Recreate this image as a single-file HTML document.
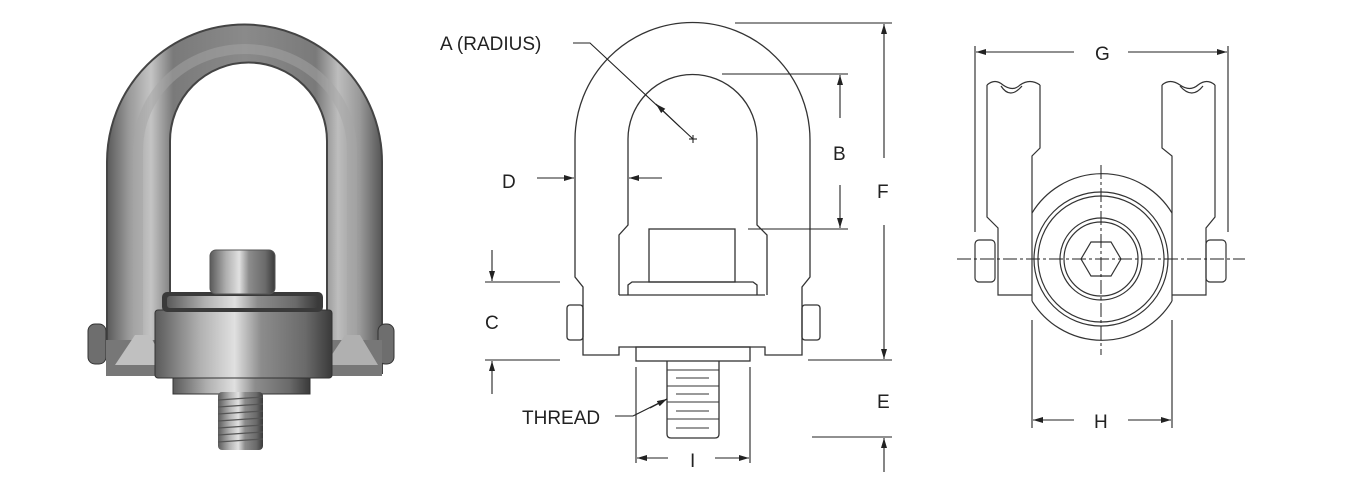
<!DOCTYPE html>
<html><head><meta charset="utf-8"><style>
html,body{margin:0;padding:0;background:#fff;width:1350px;height:481px;overflow:hidden}
svg{display:block}
text{font-family:"Liberation Sans Narrow","Liberation Sans",sans-serif;font-size:19px;fill:#222}
</style></head><body>
<svg width="1350" height="481" viewBox="0 0 1350 481" xmlns="http://www.w3.org/2000/svg">
<defs>
<linearGradient id="bail" x1="0" y1="0" x2="1" y2="0">
<stop offset="0" stop-color="#5a5a5a"/><stop offset="0.08" stop-color="#9a9a9a"/><stop offset="0.16" stop-color="#c4c4c4"/><stop offset="0.24" stop-color="#7a7a7a"/><stop offset="0.5" stop-color="#8a8a8a"/><stop offset="0.76" stop-color="#7a7a7a"/><stop offset="0.84" stop-color="#bdbdbd"/><stop offset="0.92" stop-color="#999"/><stop offset="1" stop-color="#555"/></linearGradient>
<linearGradient id="cyl" x1="0" y1="0" x2="1" y2="0">
<stop offset="0" stop-color="#5a5a5a"/><stop offset="0.25" stop-color="#b0b0b0"/><stop offset="0.45" stop-color="#e0e0e0"/><stop offset="0.6" stop-color="#8c8c8c"/><stop offset="0.85" stop-color="#6a6a6a"/><stop offset="1" stop-color="#3a3a3a"/></linearGradient>
<marker id="ar" viewBox="0 0 10 6" refX="10" refY="3" markerWidth="10" markerHeight="6" orient="auto" markerUnits="userSpaceOnUse"><path d="M0,0 L10,3 L0,6 z" fill="#222"/></marker>
</defs>

<!-- PHOTO -->
<g>
<path d="M107,373 L107,162 A137,137 0 0 1 382,162 L382,373 L327,373 L327,141 A78,78 0 0 0 170,141 L170,373 z" fill="url(#bail)" stroke="#444" stroke-width="2"/>
<path d="M138,370 L138,150 A106,100 0 0 1 352,150 L352,370" fill="none" stroke="#a5a5a5" stroke-width="10" opacity="0.5"/>
<rect x="88" y="324" width="18" height="40" rx="7" fill="#6e6e6e" stroke="#333"/>
<rect x="378" y="324" width="16" height="40" rx="7" fill="#6e6e6e" stroke="#333"/>
<rect x="106" y="340" width="64" height="36" fill="#777"/>
<rect x="325" y="340" width="57" height="36" fill="#777"/>
<path d="M115,365 L135,335 L150,335 L165,365 z" fill="#c0c0c0"/>
<path d="M325,365 L345,335 L360,335 L378,365 z" fill="#b0b0b0"/>
<rect x="173" y="376" width="137" height="18" fill="url(#cyl)" stroke="#333"/>
<rect x="218" y="392" width="45" height="58" rx="4" fill="url(#cyl)"/>
<g stroke="#555" stroke-width="1.3"><line x1="218" y1="400" x2="263" y2="397"/><line x1="218" y1="407" x2="263" y2="404"/><line x1="218" y1="414" x2="263" y2="411"/><line x1="218" y1="421" x2="263" y2="418"/><line x1="218" y1="428" x2="263" y2="425"/><line x1="218" y1="435" x2="263" y2="432"/><line x1="218" y1="442" x2="263" y2="439"/></g>
<rect x="155" y="310" width="177" height="68" rx="3" fill="url(#cyl)" stroke="#333"/>
<rect x="162" y="292" width="161" height="20" rx="5" fill="#3a3a3a"/>
<rect x="167" y="296" width="151" height="12" rx="3" fill="url(#cyl)"/>
<rect x="210" y="250" width="65" height="44" rx="6" fill="url(#cyl)" stroke="#555"/>
</g>

<!-- MIDDLE DRAWING -->
<g fill="none" stroke="#333" stroke-width="1.3">
<path d="M575,277 L575,140 A117,117 0 0 1 810,140 L810,277 L802,287 L802,355 L765,355 L765,347 L619,347 L619,355 L583,355 L583,287 z"/>
<path d="M619,295 L619,235 L628,225 L628,139 A64,64 0 0 1 757,139 L757,225 L767,235 L767,295"/>
<rect x="649" y="229" width="86" height="53"/>
<path d="M628,295 L628,285 L632,282 L753,282 L757,285 L757,295"/>
<line x1="619" y1="295" x2="765" y2="295"/>
<rect x="567" y="305" width="16" height="35" rx="3"/>
<rect x="802" y="305" width="18" height="35" rx="3"/>
<rect x="636" y="347" width="114" height="14"/>
<path d="M667,361 L667,434 Q667,438 671,438 L715,438 Q719,438 719,434 L719,361"/>
<g stroke-width="1"><line x1="667" y1="370" x2="719" y2="370"/><line x1="676" y1="378" x2="709" y2="378"/><line x1="667" y1="386" x2="719" y2="386"/><line x1="676" y1="394" x2="709" y2="394"/><line x1="667" y1="402" x2="719" y2="402"/><line x1="676" y1="411" x2="709" y2="411"/><line x1="667" y1="419" x2="719" y2="419"/><line x1="676" y1="428" x2="709" y2="428"/></g>
</g>
<g stroke="#222" stroke-width="1.1" fill="none">
<path d="M573,43 L590,43 L693,139" />
<line x1="680" y1="127" x2="656" y2="104" marker-end="url(#ar)"/>
<line x1="689" y1="139" x2="697" y2="139"/><line x1="693" y1="135" x2="693" y2="143"/>
<line x1="537" y1="178" x2="574" y2="178" marker-end="url(#ar)"/>
<line x1="662" y1="178" x2="629" y2="178" marker-end="url(#ar)"/>
<line x1="722" y1="74" x2="848" y2="74"/><line x1="748" y1="229" x2="848" y2="229"/>
<line x1="840" y1="118" x2="840" y2="75" marker-end="url(#ar)"/>
<line x1="840" y1="185" x2="840" y2="228" marker-end="url(#ar)"/>
<line x1="735" y1="23" x2="892" y2="23"/><line x1="808" y1="360" x2="892" y2="360"/>
<line x1="884" y1="158" x2="884" y2="24" marker-end="url(#ar)"/>
<line x1="884" y1="225" x2="884" y2="359" marker-end="url(#ar)"/>
<line x1="812" y1="437" x2="892" y2="437"/>
<line x1="884" y1="472" x2="884" y2="438" marker-end="url(#ar)"/>
<line x1="485" y1="282" x2="560" y2="282"/><line x1="485" y1="360" x2="560" y2="360"/>
<line x1="492" y1="250" x2="492" y2="281" marker-end="url(#ar)"/>
<line x1="492" y1="394" x2="492" y2="361" marker-end="url(#ar)"/>
<path d="M615,416 L633,416 L667,399"/>
<line x1="650" y1="408" x2="667" y2="399" marker-end="url(#ar)"/>
<line x1="636" y1="367" x2="636" y2="463"/><line x1="750" y1="367" x2="750" y2="463"/>
<line x1="668" y1="458" x2="637" y2="458" marker-end="url(#ar)"/>
<line x1="715" y1="458" x2="749" y2="458" marker-end="url(#ar)"/>
</g>
<text x="440" y="50">A  (RADIUS)</text>
<text x="502" y="188">D</text>
<text x="833" y="160">B</text>
<text x="877" y="198">F</text>
<text x="877" y="408">E</text>
<text x="485" y="329">C</text>
<text x="522" y="424">THREAD</text>
<text x="690" y="467">I</text>

<!-- RIGHT DRAWING -->
<g fill="none" stroke="#333" stroke-width="1.2">
<path d="M987,85 L987,217 L998,228 L998,295 L1032,295"/>
<path d="M1040,85 L1040,148 L1032,156 L1032,213"/>
<path d="M987,85 Q995,78 1003,85 Q1013,92 1020,85 Q1030,78 1040,85"/>
<path d="M1001,86 Q1010,100 1022,86"/>
<path d="M1215,85 L1215,217 L1206,228 L1206,295 L1172,295"/>
<path d="M1162,85 L1162,148 L1172,156 L1172,213"/>
<path d="M1162,85 Q1170,78 1180,85 Q1190,92 1198,85 Q1207,78 1215,85"/>
<path d="M1180,86 Q1192,100 1203,86"/>
<path d="M1032,213 A82,82 0 0 1 1172,213"/>
<path d="M1032,301 A82,82 0 0 0 1172,301"/>
<line x1="1032" y1="213" x2="1032" y2="301"/><line x1="1172" y1="213" x2="1172" y2="301"/>
<circle cx="1101" cy="259" r="67"/><circle cx="1101" cy="259" r="63"/>
<circle cx="1101" cy="259" r="41"/><circle cx="1101" cy="259" r="37"/>
<polygon points="1081,259 1091,242 1111,242 1121,259 1111,276 1091,276"/>
<rect x="975" y="240" width="20" height="42" rx="4"/>
<rect x="1206" y="240" width="20" height="42" rx="4"/>
</g>
<g stroke="#222" stroke-width="1" fill="none" stroke-dasharray="14,3,3,3">
<line x1="957" y1="259" x2="1245" y2="259"/>
<line x1="1101" y1="165" x2="1101" y2="355"/>
</g>
<g stroke="#222" stroke-width="1.1" fill="none">
<line x1="975" y1="46" x2="975" y2="232"/><line x1="1228" y1="46" x2="1228" y2="232"/>
<line x1="1074" y1="52" x2="976" y2="52" marker-end="url(#ar)"/>
<line x1="1128" y1="52" x2="1227" y2="52" marker-end="url(#ar)"/>
<line x1="1032" y1="320" x2="1032" y2="428"/><line x1="1172" y1="320" x2="1172" y2="428"/>
<line x1="1074" y1="420" x2="1033" y2="420" marker-end="url(#ar)"/>
<line x1="1128" y1="420" x2="1171" y2="420" marker-end="url(#ar)"/>
</g>
<text x="1095" y="60">G</text>
<text x="1094" y="428">H</text>
</svg>
</body></html>
